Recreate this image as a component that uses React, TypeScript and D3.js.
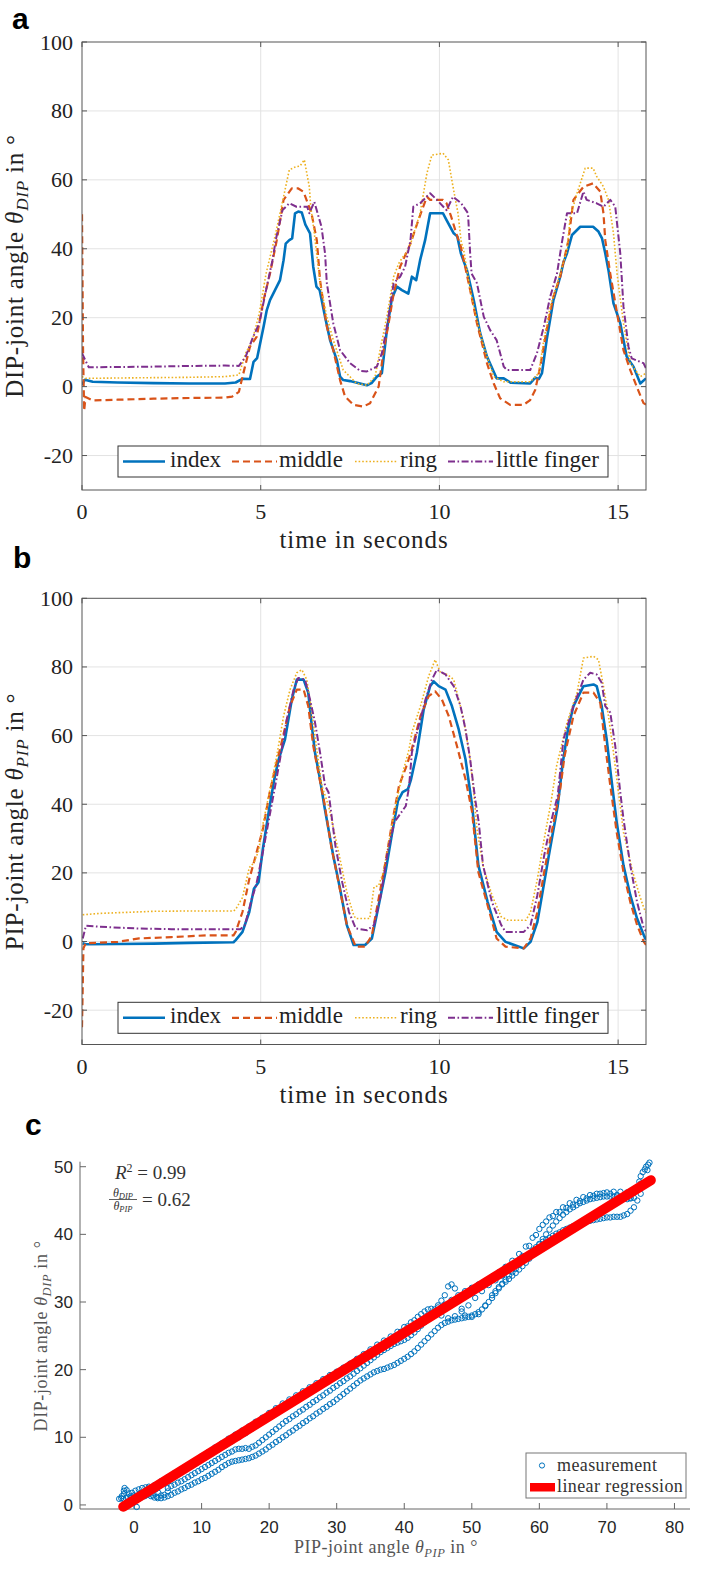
import React from "react";
import * as d3 from "d3";

// ---------- DATA ----------
const timeTicks = [0, 5, 10, 15];
const angleTicks = [-20, 0, 20, 40, 60, 80, 100];
const fingerNames = ["index", "middle", "ring", "little finger"];

// Panel a: DIP joint angle [t (s), angle (deg)]
const dipIndex: [number, number][] = [[0,0.5],[0.08,2.0],[0.3,1.4],[1,1.2],[2,1.0],[3,0.9],[4,0.9],[4.3,1.2],[4.5,2.3],[4.7,2.2],[4.8,7.2],[4.9,8.3],[5.08,17.4],[5.17,22.2],[5.26,25.1],[5.4,28],[5.54,30.9],[5.64,36.7],[5.7,41.5],[5.8,42.5],[5.88,43],[5.96,50.3],[6.05,50.8],[6.15,50.5],[6.25,47],[6.38,44.5],[6.47,34.8],[6.56,29],[6.65,28],[6.8,20.3],[6.94,13.5],[7.13,7.7],[7.22,2.9],[7.31,1.9],[7.5,1.6],[7.78,0.9],[7.97,0.4],[8.1,1.0],[8.25,2.9],[8.39,3.9],[8.53,16.4],[8.67,25.6],[8.81,29],[8.95,28],[9.13,27],[9.23,31.9],[9.35,30.9],[9.46,36.7],[9.6,42.5],[9.74,50.3],[10.1,50.3],[10.2,48.3],[10.4,44.5],[10.5,43.6],[10.6,38.7],[10.77,33.8],[10.96,25.1],[11.14,15.5],[11.33,8.7],[11.6,2.4],[11.8,2.4],[12.0,1.1],[12.54,0.9],[12.68,2.6],[12.78,2.2],[12.87,3.9],[13.0,13.5],[13.19,25.1],[13.38,31.9],[13.47,36],[13.57,38.7],[13.71,44.0],[13.94,46.4],[14.3,46.4],[14.45,45],[14.55,43],[14.64,38.7],[14.73,33.8],[14.87,24.2],[15.06,18.4],[15.24,8.7],[15.43,5.8],[15.62,0.9],[15.78,2.4]];
const dipMiddle: [number, number][] = [[0,50],[0.03,10],[0.06,-7],[0.1,-3],[0.3,-4],[1,-3.8],[2,-3.5],[3,-3.3],[4.0,-3.2],[4.2,-2.9],[4.39,-1.5],[4.56,5.8],[4.7,11.6],[4.89,14.5],[5.08,25.1],[5.26,32.8],[5.45,42.5],[5.64,54.2],[5.87,57.5],[6.05,57.5],[6.2,56.5],[6.42,50.3],[6.57,42.5],[6.66,30.9],[6.85,17.4],[7.03,10.6],[7.22,1.9],[7.36,-2.9],[7.6,-5.3],[7.87,-5.8],[8.06,-4.8],[8.3,0],[8.44,10.6],[8.58,18.4],[8.72,27],[8.9,34.8],[9.19,41.5],[9.4,48],[9.65,55.1],[9.74,54.2],[10.1,54.2],[10.2,53.2],[10.33,49.3],[10.47,44.5],[10.6,40.6],[10.86,28],[11.05,18.4],[11.33,6.8],[11.52,0.9],[11.7,-3.4],[11.98,-5.3],[12.35,-5.3],[12.54,-3.9],[12.68,-1],[12.82,5.8],[13.0,16.4],[13.19,26.1],[13.38,31.9],[13.61,42.5],[13.75,54.2],[14.03,58],[14.3,59],[14.5,56.6],[14.59,50.3],[14.64,42.5],[14.78,32.8],[14.97,21.3],[15.15,10.6],[15.34,4.8],[15.52,0],[15.71,-4.8],[15.78,-5.2]];
const dipRing: [number, number][] = [[0,2.9],[0.1,2.4],[1,2.5],[2,2.6],[3,2.7],[4,2.9],[4.39,3.4],[4.58,9.7],[4.77,13.5],[4.96,21.3],[5.15,32.8],[5.33,40.6],[5.42,44.5],[5.66,56.1],[5.8,62.9],[5.98,63.8],[6.1,64],[6.22,65.8],[6.36,58],[6.4,52.2],[6.5,44.5],[6.66,30],[6.85,20.3],[7.03,13.5],[7.31,4.8],[7.59,1.9],[7.68,0.9],[7.97,0.4],[8.2,2.9],[8.34,10.6],[8.53,20.3],[8.72,31.9],[8.86,35.7],[8.95,37.2],[9.15,40],[9.27,44],[9.46,50.3],[9.65,61.9],[9.79,67.2],[10.1,67.7],[10.25,65.8],[10.38,58],[10.52,50.3],[10.61,42],[10.68,39.6],[10.86,28],[11.05,19.3],[11.24,11.6],[11.52,2.9],[11.8,1.4],[12.54,1.4],[12.78,3.9],[12.92,13.5],[13.1,23.2],[13.38,32.8],[13.57,39.6],[13.66,49.3],[13.85,56.1],[14.08,63.4],[14.3,63.4],[14.4,61],[14.59,58],[14.73,54.2],[14.87,44.5],[14.92,38.7],[14.97,32.8],[15.15,18.4],[15.34,6.8],[15.62,2.9],[15.78,3.9]];
const dipLittle: [number, number][] = [[0,9.7],[0.09,7.7],[0.19,5.6],[1,5.7],[2,5.8],[3,6.0],[4,6.1],[4.39,6.0],[4.58,8.7],[4.77,14],[4.96,18.4],[5.15,28],[5.33,36.7],[5.42,42.5],[5.61,51.2],[5.8,53.2],[6.0,52.2],[6.3,52.2],[6.36,50.3],[6.5,53.6],[6.7,46.4],[6.8,38.7],[6.85,30],[7.03,18.4],[7.22,10.6],[7.5,6.8],[7.78,4.6],[7.97,4.4],[8.25,5.8],[8.39,9.7],[8.53,17.4],[8.72,30],[8.9,31.9],[9.04,34.8],[9.19,42.5],[9.27,52.2],[9.46,53.2],[9.74,56.1],[9.93,54.2],[10.2,51.2],[10.38,55.1],[10.61,53.2],[10.8,50.3],[10.86,38.7],[10.9,32.8],[11.05,30],[11.24,20.3],[11.42,16.4],[11.6,13.5],[11.8,5.8],[11.89,4.8],[12.54,4.8],[12.73,9.7],[12.92,17.4],[13.1,26.1],[13.29,32.8],[13.43,42],[13.57,50.3],[13.85,50.3],[14.03,56.6],[14.12,54.2],[14.4,53.2],[14.59,52.2],[14.78,54.2],[14.92,52.2],[15.06,38.7],[15.15,23.2],[15.29,11.6],[15.38,8.2],[15.71,6.8],[15.78,5.3]];

// Panel b: PIP joint angle [t (s), angle (deg)]
const pipIndex: [number, number][] = [[0.02,-0.5],[0.1,-0.8],[1,-0.7],[2,-0.6],[3,-0.4],[4.24,-0.2],[4.3,0.4],[4.49,2.8],[4.68,8.6],[4.81,15.4],[4.94,17.3],[5.06,27],[5.25,39.5],[5.38,47.3],[5.5,53],[5.68,58.9],[5.87,70.5],[6.01,76.3],[6.2,76.3],[6.33,72.5],[6.43,62.8],[6.52,55],[6.66,47.3],[6.78,39.5],[7.03,25],[7.22,15.4],[7.41,4.8],[7.6,-1],[7.92,-1],[8.11,0.9],[8.3,10.5],[8.49,20.2],[8.68,31.8],[8.84,41],[8.97,43.5],[9.12,44.4],[9.2,47],[9.37,55.1],[9.56,67.6],[9.74,74.4],[9.84,75.8],[9.98,74.4],[10.17,73.4],[10.35,68.6],[10.54,61.8],[10.73,53.1],[10.91,40],[11.09,22.2],[11.35,11.5],[11.6,2.8],[11.85,-0.1],[12.36,-2],[12.55,-0.1],[12.74,5.7],[12.87,13.5],[13.06,25],[13.31,39.5],[13.45,52],[13.6,62],[13.75,68.6],[14.03,74.4],[14.31,74.9],[14.4,74.4],[14.54,68.6],[14.68,58.9],[14.8,48.3],[14.96,34.8],[15.15,22.2],[15.34,13.5],[15.53,6.7],[15.72,1.8],[15.78,0.5]];
const pipMiddle: [number, number][] = [[0,-25],[0.04,-2],[0.1,-0.5],[1,-0.1],[1.6,0.9],[2.5,1.3],[3.5,1.8],[4.24,1.8],[4.3,2.8],[4.49,8.6],[4.68,18.2],[4.81,23.1],[5.06,32.7],[5.25,43.4],[5.44,52.1],[5.54,56],[5.82,68.6],[6.01,73.4],[6.2,73.4],[6.33,68.6],[6.47,57],[6.61,49.3],[6.78,40.5],[6.97,27.9],[7.16,18.2],[7.41,4.8],[7.66,-1.5],[7.92,-1.5],[8.11,1.8],[8.3,12.5],[8.49,23.1],[8.68,34.8],[8.87,45.4],[9.06,50.6],[9.2,55],[9.47,65.7],[9.7,71.5],[9.88,72.9],[10.07,70.5],[10.26,65.7],[10.49,57],[10.73,47.3],[10.91,38],[11.09,20.2],[11.35,10.5],[11.6,0.9],[11.85,-1.5],[12.36,-2],[12.55,0.9],[12.74,8.6],[12.93,20.2],[13.12,30.8],[13.38,44.4],[13.5,54],[13.75,65.7],[14.03,72.5],[14.31,72.5],[14.5,69.6],[14.64,57],[14.77,46.3],[14.96,31.8],[15.15,20.2],[15.34,11.5],[15.53,4.8],[15.72,-0.1],[15.78,-1]];
const pipRing: [number, number][] = [[0.02,7.8],[0.5,8.2],[1,8.4],[2,8.8],[3,8.9],[4.24,8.9],[4.3,9.4],[4.49,12.8],[4.68,21.5],[4.81,23],[4.94,26.4],[5.06,34.1],[5.25,43.8],[5.44,53.5],[5.64,65.7],[5.82,73.4],[6.01,78.3],[6.15,79.2],[6.29,76.3],[6.43,66.7],[6.57,56],[6.71,45.4],[6.9,39.5],[7.16,27],[7.41,14.4],[7.6,7.7],[7.66,6.7],[8.05,6.7],[8.17,15.9],[8.3,16.3],[8.43,20.2],[8.62,30.8],[8.81,41.4],[9.0,50.2],[9.15,56],[9.23,60.9],[9.47,68.6],[9.7,77.3],[9.88,82.1],[10.03,78.3],[10.22,77.8],[10.4,76.3],[10.54,70.5],[10.68,64.7],[10.86,53.1],[10.96,43.5],[11.05,32.8],[11.22,22.2],[11.47,13.5],[11.73,7.2],[11.92,6.2],[12.42,6.2],[12.55,8.6],[12.74,18.2],[12.93,29.8],[13.12,40.5],[13.28,51.2],[13.57,63.8],[13.85,72.5],[14.03,82.6],[14.31,83.1],[14.45,82.1],[14.59,74.4],[14.73,65.7],[14.87,55.1],[15.01,43.5],[15.15,31.8],[15.41,20.2],[15.6,13.5],[15.72,9.7],[15.78,8.5]];
const pipLittle: [number, number][] = [[0.02,0.9],[0.11,4.6],[0.5,4.3],[1.57,3.8],[2.5,3.6],[4.43,3.6],[4.56,4.8],[4.75,12.5],[4.87,16.3],[5.06,26],[5.25,36.7],[5.44,47.3],[5.54,53.1],[5.73,64.7],[5.92,73.4],[6.05,76.8],[6.24,76.3],[6.38,70.5],[6.52,63.8],[6.66,55.1],[6.8,45.4],[6.9,43.4],[7.09,27.9],[7.28,17.3],[7.47,8.6],[7.66,3.8],[7.98,3.3],[8.17,4.8],[8.36,13.5],[8.55,26],[8.74,34.8],[8.87,36.7],[9.06,39.5],[9.15,45],[9.23,55.1],[9.42,62.8],[9.61,70.5],[9.79,76.3],[9.93,79.2],[10.17,77.8],[10.4,74.4],[10.59,68.6],[10.73,61.8],[10.86,53.1],[11.0,41.5],[11.1,34.8],[11.22,22.2],[11.47,11.5],[11.73,4.8],[11.85,2.8],[12.36,2.8],[12.55,4.8],[12.74,13.5],[12.93,25],[13.12,34.8],[13.31,42.5],[13.47,58.9],[13.75,68.6],[14.03,76.3],[14.22,78.3],[14.4,77.8],[14.54,75.4],[14.64,68.6],[14.78,66.7],[14.92,57],[15.06,43.5],[15.15,35.7],[15.34,22.2],[15.53,11.5],[15.72,3.8],[15.78,3]];

// Panel c: measurement points [PIP, DIP], read along the visible bands
const scatterCluster: [number, number][] = [[-2.2,0.9],[-1.9,1.0],[-1.6,0.9],[-1.8,1.3],[-1.5,1.6],[-1.5,2.1],[-1.4,2.5],[-1.1,2.2],[-0.8,1.7],[-0.5,1.3],[-1.2,1.0],[-0.3,1.8],[0.2,2.1],[0.7,2.3],[1.2,2.5],[1.7,2.6],[2.2,2.7],[2.7,2.6],[3.2,2.3],[3.6,1.8],[4.0,1.4],[3.4,1.2],[2.8,1.4],[2.3,1.7],[0.4,-0.3],[0.0,0.8],[0.9,1.0],[1.6,1.3],[4.5,1.5],[5.0,2.0]];
const scatterUpper: [number, number][] = [[-1,1.2],[0,1.4],[1,1.8],[2,2.3],[3,2.9],[4,3.5],[5,4.1],[6,4.7],[7,5.3],[8,5.9],[9,6.5],[10,7.2],[11,7.8],[12,8.5],[13,9.1],[14,9.8],[15,10.4],[16,11.0],[17,11.6],[18,12.3],[19,12.9],[20,13.6],[21,14.3],[22,15.0],[23,15.6],[24,16.2],[25,16.8],[26,17.4],[27,18.0],[28,18.6],[29,19.2],[30,19.7],[31,20.3],[32,20.9],[33,21.6],[34,22.3],[35,23.0],[36,23.7],[37,24.3],[38,24.9],[39,25.6],[40,26.3],[41,27.0],[42,27.8],[43,28.6],[44,29.0],[45,29.2],[46,29.6],[47,30.3],[48,31.0],[49,31.6],[50,32.1],[51,32.6],[52,33.1],[53,33.7],[54,34.4],[55,35.2],[56,36.1],[57,37.1],[58,38.2],[59,39.5],[60,40.8],[61,41.9],[62,42.7],[63,43.3],[64,43.9],[65,44.4],[66,44.9],[67,45.3],[68,45.7],[69,46.0],[70,46.2],[71,46.3],[72,46.3],[73,46.2],[74,46.6],[74.8,47.8],[75.3,49.2],[75.8,50.0],[76.3,50.6]];
const scatterUpper2: [number, number][] = [[-0.5,1.0],[0.5,1.3],[1.5,1.7],[2.5,2.2],[3.5,2.8],[4.5,3.4],[5.5,4.0],[6.5,4.6],[7.5,5.2],[8.5,5.8],[9.5,6.4],[10.5,7.0],[11.5,7.6],[12.5,8.2],[13.5,8.8],[14.5,9.4],[15.5,10.0],[16.5,10.6],[17.5,11.3],[18.5,12.0],[19.5,12.7],[20.5,13.4],[21.5,14.1],[22.5,14.7],[23.5,15.3],[24.5,15.9],[25.5,16.5],[26.5,17.1],[27.5,17.7],[28.5,18.3],[29.5,18.9],[30.5,19.5],[31.5,20.1],[32.5,20.7],[33.5,21.4],[34.5,22.1],[35.5,22.8],[36.5,23.5],[37.5,24.2],[38.5,24.9],[39.5,25.6],[40.5,26.4],[41.5,27.3],[42.5,28.2],[43.5,28.9],[44.5,28.6],[45.5,28.0],[46.5,27.6],[47.5,27.9],[48.5,28.6],[49.5,29.5],[50.5,30.6],[51.5,31.6],[52.5,32.5],[53.5,33.2],[54.5,33.9],[55.5,34.7],[56.5,35.6],[57.5,36.8],[58.5,38.3],[59.5,39.9],[60.5,41.4],[61.5,42.5],[62.5,43.3],[63.5,44.0],[64.5,44.6],[65.5,45.1],[66.5,45.5],[67.5,45.8],[68.5,46.0],[69.5,46.1],[70.5,46.0],[71.5,45.8],[72.5,45.5],[73.5,45.4],[74.3,46.5],[75,48.6],[75.6,49.6],[76.1,50.3]];
const scatterMiddle: [number, number][] = [[5,2.5],[6,3.0],[7,3.5],[8,4.1],[9,4.7],[10,5.3],[11,5.9],[12,6.5],[13,7.1],[14,7.7],[15,8.2],[16,8.3],[17,8.3],[18,8.8],[19,9.6],[20,10.4],[21,11.2],[22,12.0],[23,12.7],[24,13.4],[25,14.1],[26,14.8],[27,15.5],[28,16.2],[29,16.9],[30,17.6],[31,18.3],[32,19.0],[33,19.8],[34,20.6],[35,21.4],[36,22.2],[37,22.9],[38,23.5],[39,24.0],[40,24.4],[41,25.1],[42,26.0],[43,27.0],[44,28.3],[45,29.5],[46,31.0],[46.5,32.3],[47,32.6],[47.5,32.0],[48,30.5],[48.5,29.0],[49,28.0],[50,27.8],[51,28.2],[52,29.5],[53,31.0],[54,32.2],[55,33.0],[56,33.9],[57,34.8],[58,35.8],[59,37.0],[60,38.6],[61,40.0],[62,41.3],[63,42.4],[64,43.3],[65,44.0],[66,44.6],[67,45.0],[68,45.3],[69,45.5],[70,45.6],[71,45.6],[72,45.5],[73,45.2],[74,45.4],[75,47.5],[76,49.5]];
const scatterMiddle2: [number, number][] = [[5.5,2.8],[6.5,3.3],[7.5,3.8],[8.5,4.4],[9.5,5.0],[10.5,5.6],[11.5,6.2],[12.5,6.8],[13.5,7.4],[14.5,7.9],[15.5,8.3],[16.5,8.4],[17.5,8.6],[18.5,9.2],[19.5,10.0],[20.5,10.8],[21.5,11.6],[22.5,12.4],[23.5,13.1],[24.5,13.8],[25.5,14.5],[26.5,15.2],[27.5,15.9],[28.5,16.6],[29.5,17.3],[30.5,18.0],[31.5,18.7],[32.5,19.4],[33.5,20.2],[34.5,21.0],[35.5,21.8],[36.5,22.6],[37.5,23.2],[38.5,23.8],[39.5,24.2],[40.5,24.7],[41.5,25.5],[42.5,26.5],[43.5,27.6],[44.5,28.9],[45.5,30.2],[53.5,31.6],[54.5,32.6],[55.5,33.4],[56.5,34.3],[57.5,35.3],[58.5,36.4],[59.5,37.8],[60.5,39.3],[61.5,40.7],[62.5,41.9],[63.5,42.9],[64.5,43.7],[65.5,44.3],[66.5,44.8],[67.5,45.2],[68.5,45.4],[69.5,45.6],[70.5,45.6],[71.5,45.6],[72.5,45.4],[73.5,45.3]];
const scatterLower: [number, number][] = [[2,1.5],[3,1.1],[4,1.0],[5,1.3],[6,1.8],[7,2.3],[8,2.8],[9,3.3],[10,3.8],[11,4.3],[12,4.9],[13,5.6],[14,6.2],[15,6.5],[16,6.7],[17,6.9],[18,7.3],[19,7.9],[20,8.6],[21,9.3],[22,10.0],[23,10.7],[24,11.4],[25,12.1],[26,12.8],[27,13.5],[28,14.2],[29,14.9],[30,15.6],[31,16.4],[32,17.2],[33,18.0],[34,18.7],[35,19.3],[36,19.8],[37,20.1],[38,20.5],[39,21.0],[40,21.6],[41,22.3],[42,23.2],[43,24.2],[44,25.2],[45,26.2],[46,26.9],[47,27.3],[48,27.5],[49,27.7],[50,28.0],[51,28.5],[52,29.4],[53,30.6],[54,32.0],[55,33.3],[56,34.4],[57,35.5],[58,36.6],[59,37.6],[60,38.5],[61,39.2],[62,39.8],[63,40.3],[64,40.8],[65,41.2],[66,41.6],[67,41.9],[68,42.1],[69,42.3],[70,42.5],[71,42.6],[72,42.6],[73,43.0],[74,44.0],[75,46.0]];
const scatterLower2: [number, number][] = [[2.5,1.3],[3.5,1.0],[4.5,1.1],[5.5,1.5],[6.5,2.0],[7.5,2.5],[8.5,3.0],[9.5,3.5],[10.5,4.0],[11.5,4.6],[12.5,5.2],[13.5,5.9],[14.5,6.4],[15.5,6.6],[16.5,6.8],[17.5,7.1],[18.5,7.6],[19.5,8.2],[20.5,8.9],[21.5,9.6],[22.5,10.3],[23.5,11.0],[24.5,11.7],[25.5,12.4],[26.5,13.1],[27.5,13.8],[28.5,14.5],[29.5,15.2],[30.5,16.0],[31.5,16.8],[32.5,17.6],[33.5,18.4],[34.5,19.0],[35.5,19.6],[36.5,20.0],[37.5,20.3],[38.5,20.7],[39.5,21.3],[40.5,21.9],[41.5,22.7],[42.5,23.7],[43.5,24.7],[44.5,25.7],[45.5,26.6],[46.5,27.1],[47.5,27.4],[48.5,27.6],[49.5,27.8],[50.5,28.2],[51.5,28.9],[52.5,30.0],[53.5,31.3],[54.5,32.7],[55.5,33.9],[56.5,34.9],[57.5,36.0],[58.5,37.1],[59.5,38.1],[60.5,38.9],[61.5,39.5],[62.5,40.1],[63.5,40.6],[64.5,41.0],[65.5,41.4],[66.5,41.8],[67.5,42.0],[68.5,42.2],[69.5,42.4],[70.5,42.5],[71.5,42.6],[72.5,42.8],[73.5,43.5],[74.5,45.0]];
const regressionLine: [number, number][] = [[-1.6,-0.25],[76.5,48.0]];
const scatterXTicks = [0, 10, 20, 30, 40, 50, 60, 70, 80];
const scatterYTicks = [0, 10, 20, 30, 40, 50];
const rSquared = "0.99";
const ratio = "0.62";

// ---------- STYLE ----------
const SERIF = "'Liberation Serif', 'Times New Roman', serif";
const SANS = "'Liberation Sans', Arial, sans-serif";
const COLORS = ["#0072BD", "#D95319", "#EDB120", "#7E2F8E"];
const DASH = [null, "7 4", "1.6 2", "7 2.5 1.6 2.5"];
const WIDTH = [2.6, 2.2, 1.6, 2.0];

type Series = [number, number][];

function TimePanel(props: { top: number; bottom: number; series: Series[]; sub: string; prefix: string; id: string }) {
  const { top, bottom, series, sub, prefix, id } = props;
  const left = 82, right = 646;
  const x = d3.scaleLinear().domain([0, 15.78]).range([left, right]);
  const y = d3.scaleLinear().domain([-30, 100]).range([bottom, top]);
  const line = d3.line<[number, number]>().x((d) => x(d[0])).y((d) => y(d[1]));
  const axisCol = "#555";
  const tick = 5;
  const cy = (top + bottom) / 2;
  const legTop = top + 404;
  const legH = 31;
  const legBase = legTop + 21;
  const legItems = [
    { x1: 123, x2: 165, tx: 170 },
    { x1: 232, x2: 277, tx: 279 },
    { x1: 355, x2: 397, tx: 400 },
    { x1: 448, x2: 493, tx: 496 },
  ];
  return (
    <g>
      <defs>
        <clipPath id={id}>
          <rect x={left} y={top} width={right - left} height={bottom - top} />
        </clipPath>
      </defs>
      <rect x={left} y={top} width={right - left} height={bottom - top} fill="#fff" />
      {timeTicks.filter((t) => t > 0).map((t) => (
        <line key={"gx" + t} x1={x(t)} x2={x(t)} y1={top} y2={bottom} stroke="#e3e3e3" strokeWidth={1} />
      ))}
      {angleTicks.filter((v) => v < 100).map((v) => (
        <line key={"gy" + v} x1={left} x2={right} y1={y(v)} y2={y(v)} stroke="#e3e3e3" strokeWidth={1} />
      ))}
      <g clipPath={`url(#${id})`}>
        {series.map((s, i) => (
          <path key={i} d={line(s) || ""} fill="none" stroke={COLORS[i]} strokeWidth={WIDTH[i]}
            strokeDasharray={DASH[i] || undefined} strokeLinejoin="round" />
        ))}
      </g>
      <rect x={left} y={top} width={right - left} height={bottom - top} fill="none" stroke={axisCol} strokeWidth={1} />
      {timeTicks.map((t) => (
        <g key={"tx" + t}>
          <line x1={x(t)} x2={x(t)} y1={bottom} y2={bottom - tick} stroke={axisCol} />
          <line x1={x(t)} x2={x(t)} y1={top} y2={top + tick} stroke={axisCol} />
          <text x={x(t)} y={bottom + 29} textAnchor="middle" fontFamily={SERIF} fontSize={22} fill="#222">{t}</text>
        </g>
      ))}
      {angleTicks.map((v) => (
        <g key={"ty" + v}>
          <line x1={left} x2={left + tick} y1={y(v)} y2={y(v)} stroke={axisCol} />
          <line x1={right} x2={right - tick} y1={y(v)} y2={y(v)} stroke={axisCol} />
          <text x={left - 9} y={y(v) + 7.5} textAnchor="end" fontFamily={SERIF} fontSize={22} fill="#222">{v}</text>
        </g>
      ))}
      <text x={(left + right) / 2} y={bottom + 58} textAnchor="middle" fontFamily={SERIF} fontSize={25} letterSpacing={0.9} fill="#222">time in seconds</text>
      <text transform={`translate(23,${cy}) rotate(-90)`} textAnchor="middle" fontFamily={SERIF} fontSize={25} letterSpacing={0.8} fill="#222">
        {prefix}<tspan fontStyle="italic">θ</tspan>
        <tspan fontStyle="italic" fontSize={17} dy={5}>{sub}</tspan>
        <tspan dy={-5}> in °</tspan>
      </text>
      <rect x={118} y={legTop} width={490} height={legH} fill="#fff" stroke="#333" strokeWidth={1} />
      {legItems.map((it, i) => (
        <g key={"lg" + i}>
          <line x1={it.x1} x2={it.x2} y1={legTop + legH / 2} y2={legTop + legH / 2} stroke={COLORS[i]}
            strokeWidth={WIDTH[i]} strokeDasharray={DASH[i] || undefined} />
          <text x={it.tx} y={legBase} fontFamily={SERIF} fontSize={23} fill="#222">{fingerNames[i]}</text>
        </g>
      ))}
    </g>
  );
}

function ScatterPanel() {
  const x = d3.scaleLinear().domain([-8, 82.3]).range([80, 690]);
  const y = d3.scaleLinear().domain([-0.6, 50.74]).range([1509, 1161.7]);
  const line = d3.line<[number, number]>().x((d) => x(d[0])).y((d) => y(d[1]));
  const pts = [...scatterCluster, ...scatterUpper, ...scatterUpper2, ...scatterMiddle, ...scatterMiddle2, ...scatterLower, ...scatterLower2];
  const axisCol = "#666";
  const blue = "#0072BD";
  return (
    <g>
      <line x1={80} x2={80} y1={y(50.74)} y2={y(-0.6)} stroke={axisCol} strokeWidth={1} />
      <line x1={80} x2={690} y1={y(-0.6)} y2={y(-0.6)} stroke={axisCol} strokeWidth={1} />
      {scatterYTicks.map((v) => (
        <g key={"cy" + v}>
          <line x1={80} x2={86} y1={y(v)} y2={y(v)} stroke={axisCol} />
          <text x={73} y={y(v) + 6} textAnchor="end" fontFamily={SANS} fontSize={17} fill="#262626">{v}</text>
        </g>
      ))}
      {scatterXTicks.map((v) => (
        <g key={"cx" + v}>
          <line x1={x(v)} x2={x(v)} y1={1509} y2={1503} stroke={axisCol} />
          <text x={x(v)} y={1533} textAnchor="middle" fontFamily={SANS} fontSize={17} fill="#262626">{v}</text>
        </g>
      ))}
      {pts.map((p, i) => (
        <circle key={i} cx={x(p[0])} cy={y(p[1])} r={2.7} fill="none" stroke={blue} strokeWidth={1} />
      ))}
      <path d={line(regressionLine) || ""} stroke="#FF0000" strokeWidth={10} strokeLinecap="round" fill="none" />
      <text x={115} y={1179} fontFamily={SERIF} fontSize={19} fill="#333">
        <tspan fontStyle="italic">R</tspan>
        <tspan fontSize={12} dy={-7}>2</tspan>
        <tspan dy={7}>{" = " + rSquared}</tspan>
      </text>
      <text x={123} y={1197} textAnchor="middle" fontFamily={SERIF} fontSize={12} fill="#333">
        <tspan fontStyle="italic">θ</tspan><tspan fontStyle="italic" fontSize={8.5} dy={2}>DIP</tspan>
      </text>
      <line x1={109} x2={137} y1={1199.5} y2={1199.5} stroke="#333" strokeWidth={0.8} />
      <text x={123} y={1210} textAnchor="middle" fontFamily={SERIF} fontSize={12} fill="#333">
        <tspan fontStyle="italic">θ</tspan><tspan fontStyle="italic" fontSize={8.5} dy={2}>PIP</tspan>
      </text>
      <text x={142} y={1206} fontFamily={SERIF} fontSize={19} fill="#333">{"= " + ratio}</text>
      <text x={386} y={1553} textAnchor="middle" fontFamily={SERIF} fontSize={18} letterSpacing={0.5} fill="#555">
        PIP-joint angle <tspan fontStyle="italic">θ</tspan>
        <tspan fontStyle="italic" fontSize={12.5} dy={4}>PIP</tspan>
        <tspan dy={-4}> in °</tspan>
      </text>
      <text transform={`translate(47,1336) rotate(-90)`} textAnchor="middle" fontFamily={SERIF} fontSize={18} letterSpacing={0.6} fill="#555">
        DIP-joint angle <tspan fontStyle="italic">θ</tspan>
        <tspan fontStyle="italic" fontSize={12.5} dy={4}>DIP</tspan>
        <tspan dy={-4}> in °</tspan>
      </text>
      <rect x={526} y={1453} width={160} height={45} fill="#fff" stroke="#777" strokeWidth={1} />
      <circle cx={542} cy={1465.5} r={2.6} fill="none" stroke={blue} strokeWidth={1} />
      <text x={557} y={1471} fontFamily={SERIF} fontSize={18} letterSpacing={0.4} fill="#333">measurement</text>
      <rect x={530} y={1483} width={25} height={8.5} fill="#FF0000" />
      <text x={557} y={1492} fontFamily={SERIF} fontSize={18} letterSpacing={0.4} fill="#333">linear regression</text>
    </g>
  );
}

export default function App() {
  return (
    <svg width={714} height={1575} viewBox="0 0 714 1575"
      style={{ position: "absolute", left: 0, top: 0, display: "block", background: "#fff" }}>
      <rect x={0} y={0} width={714} height={1575} fill="#fff" />
      <text x={12} y={28.5} fontFamily={SANS} fontWeight="bold" fontSize={30} fill="#000">a</text>
      <text x={13} y={568} fontFamily={SANS} fontWeight="bold" fontSize={30} fill="#000">b</text>
      <text x={25} y={1135} fontFamily={SANS} fontWeight="bold" fontSize={30} fill="#000">c</text>
      <TimePanel id="clipA" top={42} bottom={490} series={[dipIndex, dipMiddle, dipRing, dipLittle]} prefix="DIP-joint angle " sub="DIP" />
      <TimePanel id="clipB" top={598.3} bottom={1044.5} series={[pipIndex, pipMiddle, pipRing, pipLittle]} prefix="PIP-joint angle " sub="PIP" />
      <ScatterPanel />
    </svg>
  );
}
